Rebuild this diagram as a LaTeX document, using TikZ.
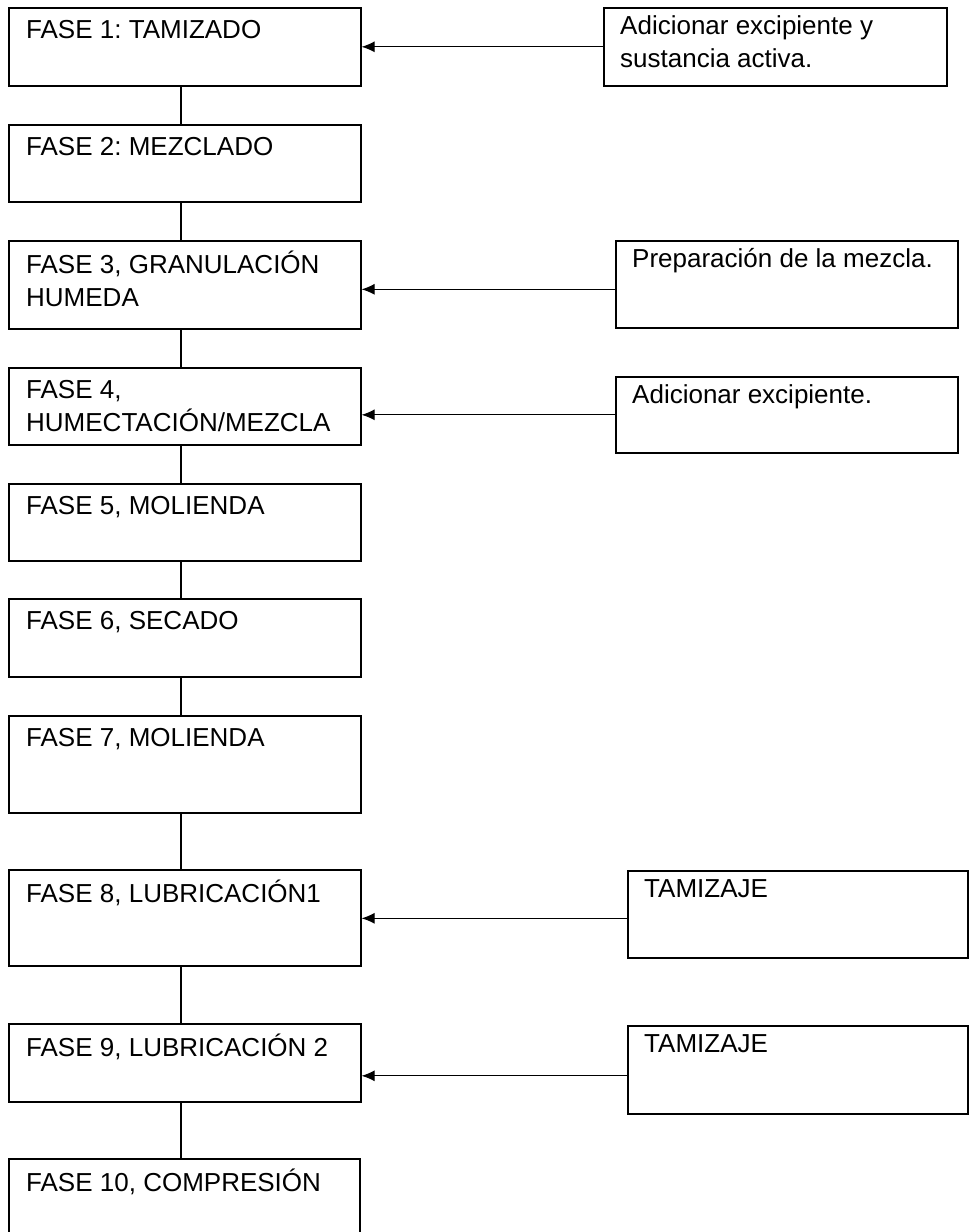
\documentclass[tikz,border=0pt]{standalone}
\usepackage{fontspec}
\setmainfont{Liberation Sans}
\frenchspacing
\usetikzlibrary{arrows.meta}
\tikzset{
  fbox/.style={draw, line width=1.6pt, rectangle, inner sep=0pt, anchor=north west},
  ftext/.style={anchor=north west, inner sep=0pt, align=left, font=\fontsize{26pt}{33pt}\selectfont},
  vline/.style={line width=1.6pt},
  feed/.style={line width=1.1pt, -{Latex[length=13pt,width=11pt]}}
}
\newcommand{\mkbox}[6]{% name, x1, y1, x2, y2, text
  \node[fbox, minimum width=#4-#2, minimum height=#5-#3] (#1) at (#2,#3) {};
  \node[ftext] (#1t) at ([xshift=18pt,yshift=-11pt]#1.north west) {\rule{0pt}{20pt}#6};
}
\newcommand{\mkrbox}[6]{%
  \node[fbox, minimum width=#4-#2, minimum height=#5-#3] (#1) at (#2,#3) {};
  \node[ftext] (#1t) at ([xshift=17pt,yshift=-7pt]#1.north west) {\rule{0pt}{20pt}#6};
}
\begin{document}
\begin{tikzpicture}[x=1pt,y=-1pt]
\useasboundingbox (0,0) rectangle (969,1232);
\mkbox{f1}{8}{7}{360}{85}{FASE 1: TAMIZADO}
\mkbox{f2}{8}{124}{360}{201}{FASE 2: MEZCLADO}
\mkbox{f3}{8}{240}{360}{328}{FASE 3, GRANULACIÓN\\HUMEDA}
\mkbox{f4}{8}{367}{360}{444}{FASE 4,\\HUMECTACIÓN/MEZCLA}
\mkbox{f5}{8}{483}{360}{560}{FASE 5, MOLIENDA}
\mkbox{f6}{8}{598}{360}{676}{FASE 6, SECADO}
\mkbox{f7}{8}{715}{360}{812}{FASE 7, MOLIENDA}
\mkbox{f8}{8}{869}{360}{965}{FASE 8, LUBRICACIÓN1}
\mkbox{f9}{8}{1023}{360}{1101}{FASE 9, LUBRICACIÓN 2}
\mkbox{f10}{8}{1158}{359}{1240}{FASE 10, COMPRESIÓN}

\mkrbox{r1}{603}{7}{946}{85}{Adicionar excipiente y\\sustancia activa.}
\mkrbox{r3}{615}{240}{957}{327}{Preparación de la mezcla.}
\mkrbox{r4}{615}{376}{957}{452}{Adicionar excipiente.}
\mkrbox{r8}{627}{870}{967}{957}{TAMIZAJE}
\mkrbox{r9}{627}{1025}{967}{1113}{TAMIZAJE}

\foreach \a/\b in {f1/f2,f2/f3,f3/f4,f4/f5,f5/f6,f6/f7,f7/f8,f8/f9,f9/f10}
  \draw[vline] ([xshift=-4pt]\a.south) -- ([xshift=-4pt]\a.south |- \b.north);

\draw[feed] (r1.west) -- (r1.west -| f1.east);
\draw[feed] ([yshift=-5pt]r3.west) -- ([yshift=-5pt]r3.west -| f3.east);
\draw[feed] (r4.west) -- (r4.west -| f4.east);
\draw[feed] ([yshift=-4pt]r8.west) -- ([yshift=-4pt]r8.west -| f8.east);
\draw[feed] ([yshift=-6pt]r9.west) -- ([yshift=-6pt]r9.west -| f9.east);
\end{tikzpicture}
\end{document}
